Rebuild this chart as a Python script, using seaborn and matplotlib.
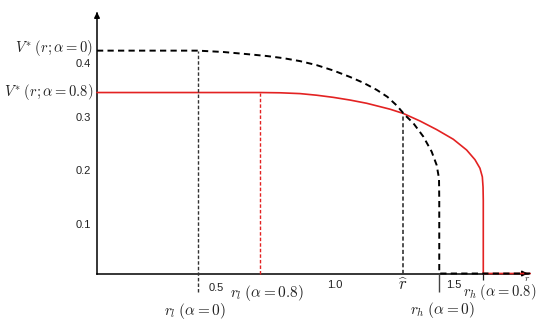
import matplotlib
matplotlib.use("Agg")
import matplotlib.pyplot as plt
import matplotlib.transforms as mtransforms
import seaborn as sns
import numpy as np

# ---- data ----
r_a0 = [0.0, 0.424, 0.53, 0.643, 0.713, 0.783, 0.853, 0.923, 0.993, 1.063, 1.12, 1.175, 1.22,
        1.259, 1.294, 1.329, 1.371, 1.406, 1.427, 1.437, 1.438, 1.438, 1.82]
v_a0 = [0.415, 0.415, 0.4125, 0.408, 0.405, 0.401, 0.3955, 0.388, 0.378, 0.366, 0.355, 0.342, 0.329,
        0.313, 0.295, 0.280, 0.255, 0.227, 0.202, 0.177, 0.137, 0.0, 0.0]

r_a8 = [0.0, 0.685, 0.77, 0.853, 0.923, 0.993, 1.063, 1.133, 1.231, 1.287, 1.357, 1.427, 1.497,
        1.553, 1.588, 1.609, 1.619, 1.622, 1.623, 1.623, 1.82]
v_a8 = [0.337, 0.337, 0.3365, 0.335, 0.332, 0.328, 0.323, 0.317, 0.306, 0.298, 0.284, 0.268, 0.250,
        0.230, 0.212, 0.196, 0.180, 0.161, 0.136, 0.0, 0.0]

r_l0, r_l8, r_hat, r_h0, r_h8 = 0.424, 0.685, 1.287, 1.438, 1.623
v_top0, v_top8, v_hat = 0.415, 0.337, 0.298

xticks = [0.5, 1.0, 1.5]
xtick_labels = ["0.5", "1.0", "1.5"]
yticks = [0.1, 0.2, 0.3, 0.4]
ytick_labels = ["0.1", "0.2", "0.3", "0.4"]

RED = "#e32222"

sns.set_theme(style="white")
plt.rcParams["font.family"] = ["Liberation Sans", "DejaVu Sans"]
plt.rcParams["mathtext.fontset"] = "cm"

fig = plt.figure(figsize=(5.37, 3.35), dpi=100)
ax = fig.add_axes([0, 0, 1, 1])
ax.set_xlim(-0.4076, 1.8487)
ax.set_ylim(-0.1145, 0.5093)
ax.patch.set_alpha(0)

# axes lines through origin
for s in ["top", "right"]:
    ax.spines[s].set_visible(False)
ax.spines["left"].set_position(("data", 0))
ax.spines["bottom"].set_position(("data", 0))
ax.spines["left"].set_bounds(0, 0.485)
ax.spines["bottom"].set_bounds(0, 1.81)
for s in ["left", "bottom"]:
    ax.spines[s].set_color("black")
    ax.spines[s].set_linewidth(1.1)
ax.annotate("", xy=(0, 0.492), xytext=(0, 0.47),
            arrowprops=dict(arrowstyle="-|>", color="black", lw=1.1, mutation_scale=8))
ax.annotate("", xy=(1.822, 0), xytext=(1.78, 0),
            arrowprops=dict(arrowstyle="-|>", color="black", lw=1.1, mutation_scale=8))

ax.set_xticks(xticks)
ax.set_xticklabels(xtick_labels)
ax.set_yticks(yticks)
ax.set_yticklabels(ytick_labels)
ax.tick_params(axis="both", direction="inout", length=7, width=1.0, color="black",
               labelsize=8, labelcolor="#222222")
ax.tick_params(axis="x", pad=1.0)
ax.tick_params(axis="y", pad=0.8)
ax.grid(False)

# small offsets of tick labels as in the reference
down = mtransforms.ScaledTranslation(0, -3 / 72, fig.dpi_scale_trans)
for lab in ax.get_yticklabels():
    lab.set_transform(lab.get_transform() + down)
xl = ax.get_xticklabels()
xl[0].set_transform(xl[0].get_transform() + mtransforms.ScaledTranslation(0, -2.5 / 72, fig.dpi_scale_trans))

# curves
sns.lineplot(x=r_a8, y=v_a8, sort=False, estimator=None, color=RED, lw=1.2, ax=ax, zorder=3)
sns.lineplot(x=r_a0, y=v_a0, sort=False, estimator=None, color="black", lw=1.4,
             dashes=False, ax=ax, zorder=4)
ax.lines[-1].set_linestyle((0, (3.2, 2.2)))

# vertical guides
ax.vlines([r_l0], -0.035, v_top0, colors="#333333", lw=1.0, linestyles=[(0, (2.5, 1.5))], zorder=3)
ax.vlines([r_l8], 0, v_top8, colors=RED, lw=1.0, linestyles=[(0, (2.5, 1.5))], zorder=3)
ax.vlines([r_hat], 0, v_hat, colors="#333333", lw=1.2, linestyles=[(0, (2.5, 1.5))], zorder=3)
ax.vlines([r_h0], -0.035, 0, colors="#444444", lw=1.0, zorder=3)
ax.vlines([r_h8], -0.012, 0, colors="#222222", lw=0.9, zorder=3)

# annotations
tc = "#222222"
fs = 11
ax.text(-0.015, 0.419, r"$V^{*}\;(r;\alpha=0)$", ha="right", va="center", fontsize=10.5, color=tc)
ax.text(-0.015, 0.3374, r"$V^{*}\;(r;\alpha=0.8)$", ha="right", va="center", fontsize=10.5, color=tc)
ax.text(0.713, -0.0358, r"$r_l\;(\alpha=0.8)$", ha="center", va="center", fontsize=fs, color=tc)
ax.text(0.412, -0.0698, r"$r_l\;(\alpha=0)$", ha="center", va="center", fontsize=fs, color=tc)
ax.text(1.287, -0.0214, r"$\widehat{r}$", ha="center", va="center", fontsize=fs + 1, color=tc)
ax.text(1.4525, -0.068, r"$r_h\;(\alpha=0)$", ha="center", va="center", fontsize=fs, color=tc)
ax.text(1.690, -0.034, r"$r_h\;(\alpha=0.8)$", ha="center", va="center", fontsize=10.5, color=tc)
ax.text(1.807, -0.0084, r"$r$", ha="center", va="center", fontsize=7, color=tc)

fig.savefig("out.png", dpi=100)
